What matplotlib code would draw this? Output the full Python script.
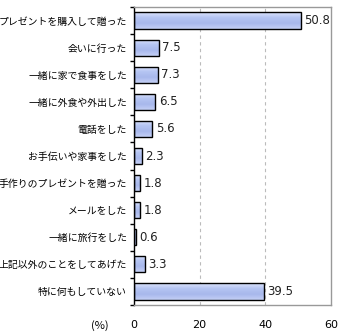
import matplotlib
matplotlib.use("Agg")
import matplotlib.pyplot as plt
import numpy as np
from matplotlib.colors import LinearSegmentedColormap

plt.rcParams['font.family'] = ['Noto Sans CJK JP', 'DejaVu Sans']

categories = ["プレゼントを購入して贈った", "会いに行った", "一緒に家で食事をした",
              "一緒に外食や外出した", "電話をした", "お手伝いや家事をした",
              "手作りのプレゼントを贈った", "メールをした", "一緒に旅行をした",
              "上記以外のことをしてあげた", "特に何もしていない"]
values = [50.8, 7.5, 7.3, 6.5, 5.6, 2.3, 1.8, 1.8, 0.6, 3.3, 39.5]
xticks = [0, 20, 40, 60]

fig = plt.figure(figsize=(3.4, 3.35), dpi=100)
ax = fig.add_axes([134/340, 30/335, (331-134)/340, (305-7)/335])

n = len(categories)
ypos = np.arange(n)
h = 0.6
cmap = LinearSegmentedColormap.from_list("g", ["#dce4fc", "#b4c4f2", "#a8b8ec", "#c4d0f6"])
grad = np.linspace(0, 1, 64).reshape(-1, 1)

bars = ax.barh(ypos, values, height=h, color="none", edgecolor="black", linewidth=1.0, zorder=3)
for b, v in zip(bars, values):
    y0 = b.get_y()
    im = ax.imshow(grad, cmap=cmap, aspect="auto", extent=[0, v, y0 + h, y0],
                   zorder=2, interpolation="bilinear")
    im.set_clip_path(b)
    ax.text(v + 1.0, b.get_y() + h / 2, f"{v:.1f}", va="center", ha="left", fontsize=8.5,
            family="DejaVu Sans", color="#222222")

ax.set_xlim(0, 60)
ax.set_ylim(n - 0.5, -0.5)
ax.set_xticks(xticks)
ax.set_xticklabels([str(t) for t in xticks], fontsize=8, family="DejaVu Sans")
ax.tick_params(axis="x", length=0, pad=11)
ax.set_yticks(ypos)
ax.set_yticklabels(categories, fontsize=7.1)
ax.tick_params(axis="y", length=0, pad=5)
ax.set_yticks(np.arange(n + 1) - 0.5, minor=True)
ax.tick_params(axis="y", which="minor", length=3, width=1, color="black", direction="out")
for x in [20, 40]:
    ax.axvline(x, color="#bbbbbb", linestyle=(0, (3, 3)), linewidth=0.8, zorder=1)
ax.spines["left"].set_color("black")
ax.spines["left"].set_linewidth(1.0)
for s in ["top", "right", "bottom"]:
    ax.spines[s].set_color("#999999")
    ax.spines[s].set_linewidth(1.0)
ax.set_zorder(1)
fig.text(100/340, 1 - 326/335, "(%)", ha="center", va="center", fontsize=8)

fig.savefig("out.png", dpi=100)
